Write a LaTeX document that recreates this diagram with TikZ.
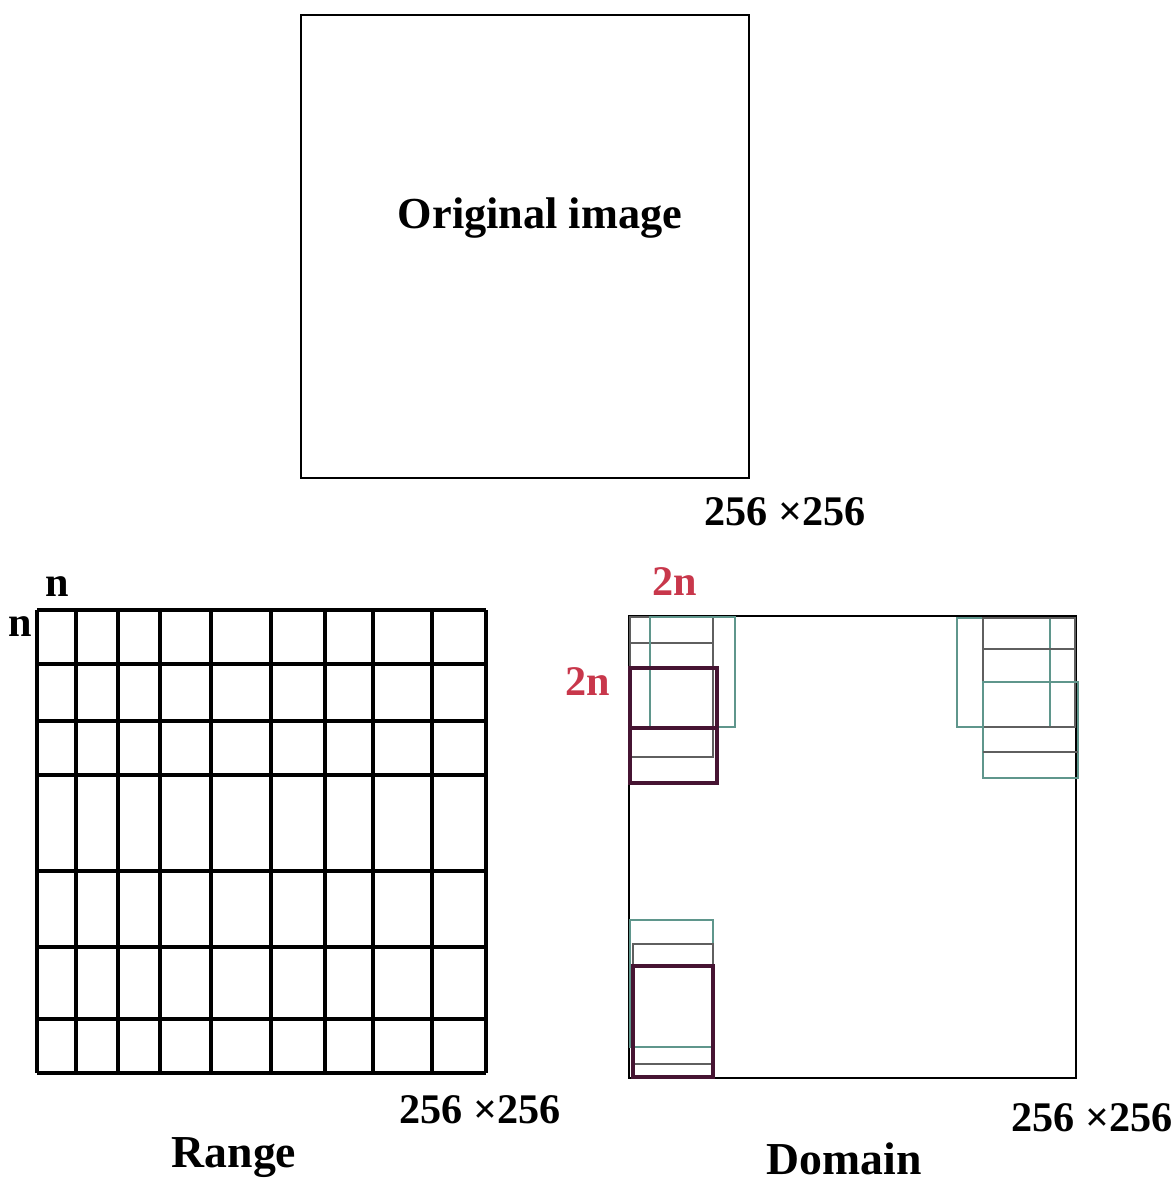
\documentclass[tikz,border=0pt]{standalone}
\usepackage{fontspec}
\setmainfont{Liberation Serif}
\usepackage{tikz}

\definecolor{tealbox}{RGB}{95,150,140}
\definecolor{greybox}{RGB}{95,95,95}
\definecolor{plumbox}{RGB}{70,20,50}
\definecolor{lblred}{RGB}{200,55,75}

\begin{document}
\begin{tikzpicture}[x=0.01cm, y=-0.01cm,
  lbl/.style={font=\bfseries\fontsize{12}{14}\selectfont, inner sep=0pt},
  big/.style={font=\bfseries\fontsize{13}{15}\selectfont, inner sep=0pt},
  red lbl/.style={lbl, text=lblred},
  frame/.style={draw=black, line width=0.75pt},
  gridl/.style={draw=black, line width=0.9pt},
  tealb/.style={draw=tealbox, line width=0.8pt},
  greyb/.style={draw=greybox, line width=0.8pt},
  plumb/.style={draw=plumbox, line width=0.9pt}
]
\useasboundingbox (0,0) rectangle (1176,1182);

% original image
\draw[frame] (301,15) rectangle (749,478);
\node[big, font=\bfseries\fontsize{12.6}{15}\selectfont] (orig) at (540,218) {Original image};
\node[lbl] (sizeorig) at (785,512) {256 ×256};

% range grid
\foreach \x in {37,76,118,160,211,271,325,373,432,486}
  \draw[gridl] (\x,610) -- (\x,1073);
\foreach \y in {610,664,721,775,871,947,1019,1073}
  \draw[gridl] (37,\y) -- (486,\y);
\node[lbl] (ncol) at (57,587) {n};
\node[lbl] (nrow) at (20,627) {n};
\node[lbl] (sizerange) at (480,1110) {256 ×256};
\node[big] (range) at (234,1158) {Range};

% domain
\draw[frame] (629,616) rectangle (1076,1078);
\node[red lbl] (twonx) at (675,582) {2n};
\node[red lbl] (twony) at (588,682) {2n};
\node[lbl] (sizedomain) at (1092,1118) {256 ×256};
\node[big] (domain) at (844,1159) {Domain};

% top left blocks
\draw[greyb] (630,617) rectangle (713,757);
\draw[greyb] (630,643) -- (713,643);
\draw[tealb] (650,617) rectangle (735,727);
\draw[plumb] (630,668) rectangle (717,783);
\draw[plumb] (630,728) -- (717,728);

% top right blocks
\draw[tealb] (957,618) rectangle (1050,727);
\draw[greyb] (983,618) rectangle (1075,727);
\draw[greyb] (983,649) -- (1075,649);
\draw[tealb] (983,682) rectangle (1078,778);
\draw[greyb] (983,752) -- (1078,752);

% bottom left blocks
\draw[tealb] (630,920) rectangle (713,1047);
\draw[greyb] (633,944) rectangle (713,1064);
\draw[plumb] (633,966) rectangle (713,1077);
\end{tikzpicture}
\end{document}
